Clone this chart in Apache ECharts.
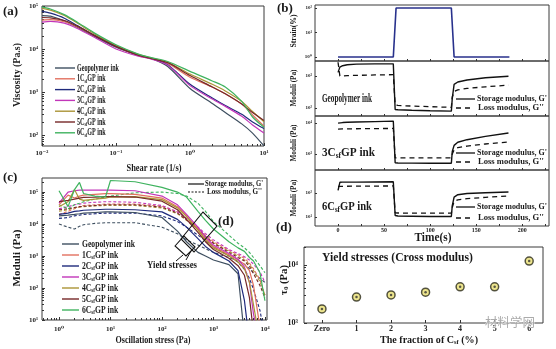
<!DOCTYPE html>
<html>
<head>
<meta charset="utf-8">
<script src="https://cdn.jsdelivr.net/npm/echarts@6/dist/echarts.min.js"></script>
<style>
html,body{margin:0;padding:0;background:#fff}
#chart{width:556px;height:349px}
</style>
</head>
<body>
<div id="chart"></div>
<script>
// ---------- (a) steady shear viscosity ----------
const shearRate = [0.01, 0.013, 0.02, 0.03, 0.05, 0.1, 0.2, 0.3, 0.5, 1, 2, 3, 5, 7, 10];
const viscGeo = [60000, 58000, 45000, 32000, 20000, 11000, 7200, 6000, 3900, 1200, 540, 330, 180, 110, 55];
const visc1C  = [47000, 48000, 43000, 33000, 21000, 11500, 7000, 5900, 4600, 2200, 1300, 900, 520, 290, 160];
const visc2C  = [75000, 68000, 52000, 35000, 21000, 11500, 7200, 6000, 4300, 1500, 720, 480, 300, 200, 140];
const visc3C  = [42000, 44000, 40000, 30000, 19000, 10000, 6800, 5800, 4200, 1400, 680, 460, 270, 170, 110];
const visc4C  = [88000, 80000, 60000, 40000, 23000, 12000, 7500, 6200, 4900, 2600, 1500, 1050, 600, 350, 200];
const visc5C  = [54000, 53000, 46000, 34000, 21000, 11500, 7200, 6000, 4800, 2400, 1300, 900, 520, 330, 215];
const visc6C  = [95000, 85000, 63000, 42000, 24000, 12500, 7600, 6300, 5100, 3000, 1800, 1300, 600, 260, 150];

// ---------- (c) amplitude sweep ----------
const stress = [1, 1.5, 2, 2.5, 3, 5, 8, 10, 30, 100, 200, 300, 500, 700, 1000, 2000, 3000, 4000, 5000, 6000, 8000, 10000];
const storGeo = [18000, 19000, 20000, 21000, 22000, 23000, 24000, 24000, 23000, 16000, 6000, 2800, 1300, 1000, 750, 540, 280, 3, 1, 1, 1, 1];
const stor1C  = [40000, 80000, 65000, 75000, 80000, 85000, 90000, 90000, 85000, 65000, 35000, 18000, 7000, 3500, 2000, 1100, 750, 550, 350, 120, 6, 1];
const stor2C  = [20000, 22000, 25000, 26000, 27000, 28000, 29000, 29000, 28000, 24000, 14000, 8000, 3500, 2000, 1300, 700, 350, 40, 2, 1, 1, 1];
const stor3C  = [45000, 100000, 110000, 115000, 115000, 115000, 115000, 115000, 110000, 75000, 40000, 20000, 8000, 4000, 2200, 1200, 800, 450, 150, 15, 2, 1];
const stor4C  = [35000, 50000, 120000, 60000, 55000, 60000, 65000, 70000, 72000, 58000, 32000, 17000, 6500, 3200, 1800, 1000, 650, 400, 150, 30, 2, 1];
const stor5C  = [50000, 55000, 60000, 65000, 68000, 70000, 72000, 72000, 70000, 52000, 28000, 14000, 5500, 2800, 1600, 850, 500, 250, 50, 4, 1, 1];
const stor6C  = [110000, 35000, 120000, 200000, 90000, 75000, 70000, 230000, 210000, 140000, 100000, 70000, 25000, 13000, 7000, 2800, 1800, 1400, 900, 700, 300, 40];
const lossGeo = [10000, 8000, 7000, 8500, 9500, 10500, 11000, 11000, 11000, 8000, 5000, 3200, 2200, 1700, 1300, 900, 700, 550, 400, 300, 200, 150];
const loss1C  = [20000, 25000, 30000, 35000, 38000, 40000, 42000, 42000, 42000, 36000, 24000, 15000, 7500, 4500, 2800, 1500, 1100, 850, 600, 400, 180, 60];
const loss2C  = [15000, 16000, 18000, 19000, 20000, 21000, 22000, 22000, 22000, 18000, 12000, 8000, 4500, 3000, 2000, 1000, 650, 380, 200, 90, 20, 3];
const loss3C  = [30000, 35000, 40000, 42000, 45000, 48000, 50000, 50000, 48000, 38000, 24000, 15000, 8000, 5000, 3200, 1600, 1200, 950, 750, 550, 320, 150];
const loss4C  = [25000, 28000, 32000, 34000, 35000, 37000, 38000, 38000, 38000, 32000, 21000, 13000, 7000, 4200, 2600, 1400, 1000, 750, 550, 350, 160, 60];
const loss5C  = [28000, 30000, 33000, 35000, 36000, 38000, 40000, 40000, 40000, 34000, 22000, 13500, 7000, 4000, 2500, 1300, 900, 700, 480, 280, 120, 50];
const loss6C  = [40000, 30000, 40000, 45000, 50000, 60000, 70000, 75000, 95000, 100000, 90000, 75000, 45000, 25000, 12000, 4500, 2500, 1800, 1300, 900, 500, 300];

// ---------- (b) three-interval thixotropy ----------
const strainTime = [0, 60, 63, 123, 126, 186];
const strainPct  = [1, 1, 100, 100, 1, 1];
const thixTime = [0, 2, 5, 10, 20, 40, 60, 62, 65, 80, 100, 123, 124, 126, 130, 140, 160, 185];
const thixGeoStor = [1300, 1900, 2100, 2250, 2350, 2400, 2400, 90, 88, 85, 82, 80, 200, 550, 650, 750, 880, 980];
const thixGeoLoss = [2700, 1000, 1000, 1030, 1050, 1080, 1100, 125, 120, 115, 110, 105, 220, 330, 370, 410, 460, 520];
const thix3CStor  = [10000, 10200, 10400, 10600, 10800, 11200, 11600, 520, 510, 505, 500, 500, 1200, 1900, 2400, 2900, 3700, 4800];
const thix3CLoss  = [6400, 6400, 6450, 6500, 6550, 6650, 6700, 750, 745, 745, 745, 745, 1000, 1350, 1600, 1800, 2100, 2450];
const thix6CStor  = [130, 280, 285, 285, 285, 290, 295, 11.5, 11, 10.8, 10.5, 10.5, 30, 68, 85, 95, 103, 110];
const thix6CLoss  = [190, 190, 190, 192, 193, 195, 197, 15, 14.7, 14.5, 14.5, 14.5, 25, 45, 52, 58, 66, 75];

// ---------- (d) yield stresses ----------
const fractionPos = [0, 1, 2, 3, 4, 5, 6];
const fractionLabels = ['Zero', '1', '2', '3', '4', '5', '6'];
const yieldStress = [1750, 2800, 3050, 3400, 4200, 4200, 11700];

const inkNames  = ['Geopolymer ink', '1C{s|sf}GP ink', '2C{s|sf}GP ink', '3C{s|sf}GP ink', '4C{s|sf}GP ink', '5C{s|sf}GP ink', '6C{s|sf}GP ink'];
const inkColors = ['#3e4f60', '#e2705f', '#1f2a7c', '#c236b9', '#ab9436', '#762828', '#3fb35f'];
const viscosity = [viscGeo, visc1C, visc2C, visc3C, visc4C, visc5C, visc6C];
const storage   = [storGeo, stor1C, stor2C, stor3C, stor4C, stor5C, stor6C];
const loss      = [lossGeo, loss1C, loss2C, loss3C, loss4C, loss5C, loss6C];

// ---------- helpers ----------
const FONT = '"Liberation Serif","Times New Roman","DejaVu Serif",serif';
const INK = '#1a1a1a';
const lg = Math.log10;
const mctx = document.createElement('canvas').getContext('2d');
function measure(str, size) {
  let w = 0;
  str.split(/(\{s\|[^}]*\})/).forEach(part => {
    if (!part) return;
    const m = part.match(/^\{s\|([^}]*)\}$/);
    mctx.font = 'bold ' + (m ? size * 0.65 : size) + 'px ' + FONT;
    w += mctx.measureText(m ? m[1] : part).width;
  });
  return w;
}
function txt(str, x, y, size, opt) {
  opt = opt || {};
  const sx = opt.width ? opt.width / measure(str, size) : (opt.scale || 1);
  return {
    type: 'text', x: x, y: y, rotation: opt.rotation || 0, scaleX: sx, silent: true, z: 100,
    style: {
      text: str, fill: opt.color || INK, fontFamily: FONT, fontWeight: 'bold', fontSize: size,
      align: opt.align || 'left', verticalAlign: 'middle', opacity: opt.opacity == null ? 1 : opt.opacity,
      rich: { s: { fill: opt.color || INK, fontFamily: FONT, fontWeight: 'bold', fontSize: size * 0.65, padding: [size * 0.55, 0, 0, 0] } }
    }
  };
}
function seg(x1, y1, x2, y2, color, w, dash) {
  return { type: 'line', silent: true, z: 100, shape: { x1: x1, y1: y1, x2: x2, y2: y2 },
    style: { stroke: color || '#111', lineWidth: w || 1.3, lineDash: dash || null } };
}
const supMap = { '-': '\u207B', '0': '\u2070', '1': '\u00B9', '2': '\u00B2', '3': '\u00B3', '4': '\u2074', '5': '\u2075', '6': '\u2076' };
const pow10 = v => '10' + String(Math.round(v)).split('').map(c => supMap[c]).join('');
function decades(lo, hi) { const o = []; for (let n = Math.ceil(lo - 1e-9); n <= Math.floor(hi + 1e-9); n++) o.push(n); return o; }
function logMinor(lo, hi) {
  const o = [];
  for (let n = Math.floor(lo); n <= Math.ceil(hi); n++) for (let k = 2; k <= 9; k++) { const v = n + lg(k); if (v > lo && v < hi) o.push(v); }
  return o;
}
function axis(gridIndex, pos, lo, hi, labelVals, tickVals, o) {
  o = o || {};
  return {
    type: 'value', gridIndex: gridIndex, position: pos, min: lo, max: hi,
    axisLine: { show: false, onZero: false }, splitLine: { show: false },
    axisTick: { show: !!tickVals, inside: true, length: o.tickLen || 3, customValues: tickVals || [], lineStyle: { color: '#333', width: 1 } },
    axisLabel: { show: !!labelVals, customValues: labelVals || [], formatter: o.fmt || pow10,
      fontSize: o.fs || 7, margin: o.margin == null ? 4 : o.margin, fontFamily: FONT, fontWeight: 'bold', color: '#222' }
  };
}

// ranges (log10 for logarithmic panels)
const rA = { x: [-2, 1], y: [1.74, 5] };
const rC = { x: [-0.33, 4.04], y: [1, 5.44] };
const rT = [-25, 229];
const rStrain = [-0.16, 2.12], rB1 = [1.75, 3.47], rB2 = [2.48, 4.23], rB3 = [0.625, 2.96];
const rD = { x: [-0.52, 6.4], y: [3, 4.31] };
const timeTicks = [0, 25, 50, 75, 100, 125, 150, 175, 200, 225];

const gridBase = { show: true, borderColor: '#3a3a3a', borderWidth: 1, backgroundColor: 'transparent', containLabel: false, outerBoundsMode: 'none' };
const grids = [
  { left: 42, top: 6, width: 222, height: 140 },
  { left: 42, top: 178, width: 225, height: 142 },
  { left: 315, top: 5, width: 234, height: 56 },
  { left: 315, top: 61, width: 234, height: 55 },
  { left: 315, top: 116, width: 234, height: 54 },
  { left: 315, top: 170, width: 234, height: 56 },
  { left: 304, top: 247, width: 239, height: 76 }
].map(g => Object.assign({}, gridBase, g));

const xAxes = [
  axis(0, 'bottom', rA.x[0], rA.x[1], decades(...rA.x), decades(...rA.x), { margin: 4 }),
  axis(0, 'bottom', rA.x[0], rA.x[1], null, logMinor(...rA.x), { tickLen: 2 }),
  axis(1, 'bottom', rC.x[0], rC.x[1], decades(...rC.x), decades(...rC.x), { margin: 6 }),
  axis(1, 'bottom', rC.x[0], rC.x[1], null, logMinor(...rC.x), { tickLen: 2 }),
  axis(2, 'bottom', rT[0], rT[1], null, timeTicks, { tickLen: 2 }),
  axis(3, 'bottom', rT[0], rT[1], null, timeTicks, { tickLen: 2 }),
  axis(4, 'bottom', rT[0], rT[1], null, timeTicks, { tickLen: 2 }),
  axis(5, 'bottom', rT[0], rT[1], [0, 50, 100, 150, 200], timeTicks, { tickLen: 2, fmt: v => String(v), fs: 6, margin: 1 }),
  axis(6, 'bottom', rD.x[0], rD.x[1], fractionPos, fractionPos, { fmt: v => fractionLabels[v], fs: 8, margin: 2 })
];
const yAxes = [
  axis(0, 'left', rA.y[0], rA.y[1], decades(...rA.y), decades(...rA.y)),
  axis(0, 'left', rA.y[0], rA.y[1], null, logMinor(...rA.y), { tickLen: 2 }),
  axis(1, 'left', rC.y[0], rC.y[1], decades(...rC.y), decades(...rC.y)),
  axis(1, 'left', rC.y[0], rC.y[1], null, logMinor(...rC.y), { tickLen: 2 }),
  axis(2, 'left', rStrain[0], rStrain[1], [0, 1, 2], [0, 1, 2], { fs: 5, margin: 3, tickLen: 2 }),
  axis(3, 'left', rB1[0], rB1[1], [2, 3], [2, 3], { fs: 5, margin: 3, tickLen: 2 }),
  axis(4, 'left', rB2[0], rB2[1], [3, 4], [3, 4], { fs: 5, margin: 3, tickLen: 2 }),
  axis(5, 'left', rB3[0], rB3[1], [1, 2], [1, 2], { fs: 5, margin: 3, tickLen: 2 }),
  axis(6, 'left', rD.y[0], rD.y[1], [3, 4], [3, 4], { fs: 8, margin: 6 }),
  axis(6, 'left', rD.y[0], rD.y[1], null, logMinor(...rD.y), { tickLen: 2 })
];

const series = [];
// (a)
viscosity.forEach((arr, i) => series.push({
  type: 'line', xAxisIndex: 0, yAxisIndex: 0, symbol: 'none', smooth: 0.25, z: 3,
  data: shearRate.map((x, j) => [lg(x), lg(arr[j])]),
  lineStyle: { color: inkColors[i], width: 1.2 }
}));
// (c) loss moduli dashed, storage moduli solid
loss.forEach((arr, i) => series.push({
  type: 'line', xAxisIndex: 2, yAxisIndex: 2, symbol: 'none', z: 3,
  data: stress.map((x, j) => [lg(x), lg(arr[j])]),
  lineStyle: { color: inkColors[i], width: 1.1, type: [3, 2] }
}));
storage.forEach((arr, i) => series.push({
  type: 'line', xAxisIndex: 2, yAxisIndex: 2, symbol: 'none', z: 4,
  data: stress.map((x, j) => [lg(x), lg(arr[j])]),
  lineStyle: { color: inkColors[i], width: 1.2 }
}));
// (b)
series.push({
  type: 'line', xAxisIndex: 4, yAxisIndex: 4, symbol: 'none',
  data: strainTime.map((t, j) => [t, lg(strainPct[j])]),
  lineStyle: { color: '#28318c', width: 1.6 }
});
[[thixGeoStor, thixGeoLoss], [thix3CStor, thix3CLoss], [thix6CStor, thix6CLoss]].forEach((pair, p) => {
  series.push({
    type: 'line', xAxisIndex: 5 + p, yAxisIndex: 5 + p, symbol: 'none',
    data: thixTime.map((t, j) => [t, lg(pair[0][j])]),
    lineStyle: { color: '#111', width: 1.4 }
  });
  series.push({
    type: 'line', xAxisIndex: 5 + p, yAxisIndex: 5 + p, symbol: 'none',
    data: thixTime.map((t, j) => [t, lg(pair[1][j])]),
    lineStyle: { color: '#111', width: 1.3, type: [5, 4] }
  });
});
// (d)
const yieldData = fractionPos.map((x, j) => [x, lg(yieldStress[j])]);
series.push({
  type: 'scatter', xAxisIndex: 8, yAxisIndex: 8, symbol: 'circle', symbolSize: 8, data: yieldData,
  itemStyle: { color: '#e9df72', borderColor: '#2b2b1c', borderWidth: 1.5 }
});
series.push({
  type: 'scatter', xAxisIndex: 8, yAxisIndex: 8, symbol: 'circle', symbolSize: 2.5, data: yieldData,
  itemStyle: { color: '#333' }, z: 3
});

// ---------- text, legends, annotations ----------
const graphic = [];
// panel letters
graphic.push(txt('(a)', 3, 12, 13));
graphic.push(txt('(b)', 277, 9, 13));
graphic.push(txt('(c)', 3, 178, 13));
graphic.push(txt('(d)', 276, 228, 13));
// axis titles
graphic.push(txt('Viscosity (Pa.s)', 17, 75, 10, { align: 'center', rotation: Math.PI / 2, width: 64 }));
graphic.push(txt('Shear rate (1/s)', 154, 168, 10, { align: 'center', width: 55 }));
graphic.push(txt('Moduli (Pa)', 17, 258, 11, { align: 'center', rotation: Math.PI / 2, width: 57 }));
graphic.push(txt('Oscillation stress (Pa)', 153, 340, 10, { align: 'center', width: 75 }));
graphic.push(txt('Strain(%)', 294, 31, 8, { align: 'center', rotation: Math.PI / 2, width: 33 }));
[88, 143, 198].forEach(cy => graphic.push(txt('Moduli (Pa)', 294, cy, 8, { align: 'center', rotation: Math.PI / 2, width: 37 })));
graphic.push(txt('Time(s)', 433, 238, 12, { align: 'center', width: 37 }));
graphic.push(txt('\u03C4{s|0} (Pa)', 284, 280, 10, { align: 'center', rotation: Math.PI / 2, width: 30 }));
graphic.push(txt('The fraction of C{s|sf} (%)', 429, 340, 10, { align: 'center', width: 98 }));
graphic.push(txt('Yield stresses (Cross modulus)', 322, 258, 12, { width: 151 }));

// (a) legend
const sA = 42 / measure('Geopolymer ink', 10);
inkNames.forEach((n, i) => {
  const y = 68 + i * 10.8;
  graphic.push(seg(55, y, 75, y, inkColors[i], 1.4));
  graphic.push(txt(n, 77, y, 10, { scale: sA }));
});
// (c) legend
const sC = 53 / measure('Geopolymer ink', 10);
inkNames.forEach((n, i) => {
  const y = 244 + i * 11;
  graphic.push(seg(62, y, 79, y, inkColors[i], 1.4));
  graphic.push(txt(n, 82, y, 10, { scale: sC }));
});
graphic.push(seg(188, 184, 204, 184, '#111', 1.2));
graphic.push(txt('Storage modulus, G\'', 205, 184, 8, { width: 58 }));
graphic.push(seg(188, 192, 205, 192, '#111', 1.2, [2, 1.5]));
graphic.push(txt('Loss modulus, G\'\'', 207, 192, 8, { width: 55 }));
// (c) yield-region boxes
graphic.push({ type: 'polygon', silent: true, z: 100, shape: { points: [[181, 239], [203, 212], [217, 226], [194, 252]] }, style: { fill: 'none', stroke: '#111', lineWidth: 1.1 } });
graphic.push({ type: 'polygon', silent: true, z: 100, shape: { points: [[175, 246], [184, 236], [195, 247], [186, 256]] }, style: { fill: 'none', stroke: '#111', lineWidth: 1.1 } });
graphic.push(seg(183, 255, 176, 261, '#111', 1));
graphic.push(seg(191, 251, 186, 260, '#111', 1));
graphic.push(txt('(d)', 218, 222, 13));
graphic.push(txt('Yield stresses', 147, 265, 11, { width: 50 }));

// (b) panel labels and legends
const bInk = [['Geopolymer ink', 99, 50], ['3C{s|sf}GP ink', 153, 53], ['6C{s|sf}GP ink', 207, 50]];
bInk.forEach(r => graphic.push(txt(r[0], 322, r[1], 12, { width: r[2] })));
[[99, 108], [153, 162], [207, 218]].forEach(r => {
  graphic.push(seg(456, r[0], 475, r[0], '#111', 1.3));
  graphic.push(txt('Storage modulus, G\'', 477, r[0], 8, { width: 70 }));
  graphic.push(seg(456, r[1], 474, r[1], '#111', 1.3, [5, 4]));
  graphic.push(txt('Loss modulus, G\'\'', 478, r[1], 8, { width: 66 }));
});
// site mark in the corner
graphic.push({ type: 'text', x: 485, y: 322, silent: true, z: 100,
  style: { text: '\u6750\u6599\u5B66\u7F51', fill: '#8f8f8f', opacity: 0.75, fontFamily: '"Noto Sans CJK SC"', fontSize: 12.5, verticalAlign: 'middle', stroke: '#fff', lineWidth: 1 } });

const chart = echarts.init(document.getElementById('chart'), null, { renderer: 'canvas' });
chart.setOption({
  animation: false,
  backgroundColor: '#fff',
  grid: grids,
  xAxis: xAxes,
  yAxis: yAxes,
  series: series,
  graphic: graphic
});
</script>
</body>
</html>
